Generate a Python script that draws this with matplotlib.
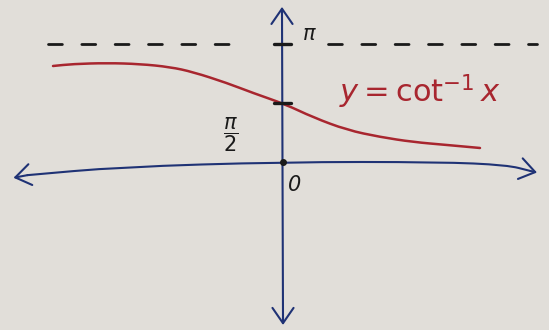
import numpy as np
import matplotlib
matplotlib.use("Agg")
import matplotlib.pyplot as plt
from matplotlib.path import Path
from matplotlib.patches import PathPatch

plt.rcParams["lines.scale_dashes"] = False

# Sketched curve y = arccot(x), sampled along the drawn line
curve_x = [-2.295, -2.095, -1.755, -1.425, -1.125, -0.895, -0.555, -0.295,
           0.025, 0.305, 0.645, 0.975, 1.305, 1.645, 1.975]
curve_y = [2.556, 2.609, 2.636, 2.609, 2.529, 2.396, 2.103, 1.837,
           1.540, 1.190, 0.852, 0.666, 0.532, 0.453, 0.373]

# Marked values on the y axis
tick_values = [np.pi / 2, np.pi]
tick_labels = [r"$\dfrac{\pi}{2}$", r"$\pi$"]
asymptote = np.pi

paper = "#e1ded9"
ink_blue = "#1f3275"
ink_red = "#a8262f"
ink_black = "#1a1a1a"


def smooth_path(xs, ys):
    """Quadratic B-spline through the sample points (pen-like stroke)."""
    pts = np.column_stack([xs, ys])
    verts = [pts[0]]
    codes = [Path.MOVETO]
    mids = (pts[:-1] + pts[1:]) / 2
    verts.append(mids[0]); codes.append(Path.LINETO)
    for i in range(1, len(pts) - 1):
        verts += [pts[i], mids[i]]
        codes += [Path.CURVE3, Path.CURVE3]
    verts.append(pts[-1]); codes.append(Path.LINETO)
    return Path(verts, codes)


fig = plt.figure(figsize=(5.49, 3.30), dpi=100)
fig.patch.set_facecolor(paper)
ax = fig.add_axes([0, 0, 1, 1])
ax.set_facecolor(paper)
ax.set_xlim(-2.825, 2.665)
ax.set_ylim(-4.473, 4.313)
ax.axis("off")

# Hand-drawn x axis (slightly bowed) with arrowheads at both ends
xa_x = [-2.55, -1.625, 0.005, 1.575, 2.245, 2.48]
xa_y = [-0.35, -0.133, 0.0, 0.0, -0.08, -0.24]
ax.add_patch(PathPatch(smooth_path(xa_x, xa_y), fill=False,
                       edgecolor=ink_blue, lw=1.5, capstyle="round"))
arrow = dict(arrowstyle="->,head_length=0.55,head_width=0.38",
             color=ink_blue, lw=1.5, mutation_scale=20, shrinkA=0, shrinkB=0)
ax.annotate("", xy=(-2.69, -0.42), xytext=(-2.55, -0.35), arrowprops=arrow)
ax.annotate("", xy=(2.545, -0.28), xytext=(2.48, -0.24), arrowprops=arrow)

# y axis
ax.plot([-0.005, 0.005], [3.95, -4.15], color=ink_blue, lw=1.5)
ax.annotate("", xy=(-0.005, 4.13), xytext=(-0.005, 3.95), arrowprops=arrow)
ax.annotate("", xy=(0.005, -4.34), xytext=(0.005, -4.15), arrowprops=arrow)

# Asymptote y = pi, dashed on both sides of the axis
dash = (0, (10, 14))
ax.plot([-2.345, -0.40], [asymptote, asymptote], color=ink_black, lw=2.0,
        linestyle=dash, dash_capstyle="round")
ax.plot([0.45, 2.545], [asymptote, asymptote], color=ink_black, lw=2.0,
        linestyle=dash, dash_capstyle="round")

# Tick marks on the y axis and the origin dot
for v in tick_values:
    ax.plot([-0.085, 0.08], [v, v], color=ink_black, lw=2.4,
            solid_capstyle="round")
ax.plot([0], [0], "o", color=ink_black, ms=4)

# Tick labels
ax.text(-0.515, 0.72, tick_labels[0], fontsize=15, color=ink_black,
        ha="center", va="center")
ax.text(0.27, 3.40, tick_labels[1], fontsize=15, color=ink_black,
        ha="center", va="center")
ax.text(0.125, -0.62, "0", fontsize=15, color=ink_black,
        ha="center", va="center", style="italic")

# The curve and its label
ax.add_patch(PathPatch(smooth_path(curve_x, curve_y), fill=False,
                       edgecolor=ink_red, lw=1.8, capstyle="round"))
ax.text(1.375, 1.86, r"$y = \cot^{-1}x$", fontsize=22, color=ink_red,
        ha="center", va="center")

fig.savefig("out.png", dpi=100, facecolor=paper)
